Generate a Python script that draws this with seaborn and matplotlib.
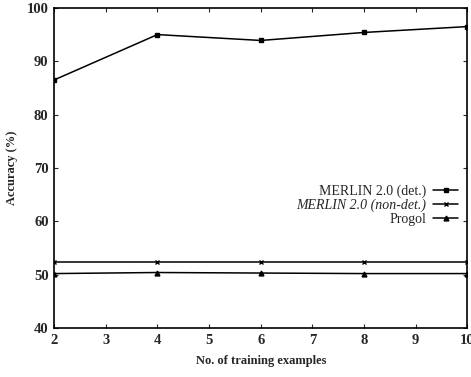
import numpy as np
import pandas as pd
import matplotlib.pyplot as plt
import seaborn as sns

# Values
examples = [2, 4, 6, 8, 10]
merlin_det = [86.5, 95.0, 93.9, 95.4, 96.5]
merlin_nondet = [52.4, 52.4, 52.4, 52.4, 52.4]
progol = [50.2, 50.4, 50.3, 50.2, 50.2]

series_names = ['MERLIN 2.0 (det.)', 'MERLIN 2.0 (non-det.)', 'Progol']
series_markers = ['s', 'x', '^']

sns.set_theme(style='ticks')
plt.rcParams['font.family'] = ['Liberation Serif', 'DejaVu Serif']

fig = plt.figure(figsize=(4.71, 3.77), dpi=100)
ax = fig.add_axes([0.115, 0.13, 0.877, 0.849])

for name, vals, mk in zip(series_names, [merlin_det, merlin_nondet, progol], series_markers):
    sns.lineplot(x=examples, y=vals, color='black', marker=mk, markersize=3.5,
                 markeredgecolor='black', markeredgewidth=1.0, linewidth=1.1,
                 label=name, ax=ax)

ax.set_xlim(2, 10)
ax.set_ylim(40, 100)
ax.set_xticks(range(2, 11))
ax.set_yticks(range(40, 101, 10))
ax.tick_params(direction='in', top=True, right=True, length=3, labelsize=10.5,
               width=0.8, pad=4)
for lbl in ax.get_xticklabels() + ax.get_yticklabels():
    lbl.set_fontweight('bold')
for s in ax.spines.values():
    s.set_linewidth(1.2)
    s.set_color('black')

ax.set_xlabel('No. of training examples', fontsize=9, fontweight='bold', labelpad=6)
ax.set_ylabel('Accuracy (%)', fontsize=9, fontweight='bold', labelpad=6)

leg = ax.legend(loc='upper right', bbox_to_anchor=(0.995, 0.47), frameon=False,
                markerfirst=False, fontsize=10, handlelength=1.8, handletextpad=0.5,
                labelspacing=0.05, borderaxespad=0.1)
leg.get_texts()[1].set_fontstyle('italic')

fig.savefig('out.png', dpi=100)
